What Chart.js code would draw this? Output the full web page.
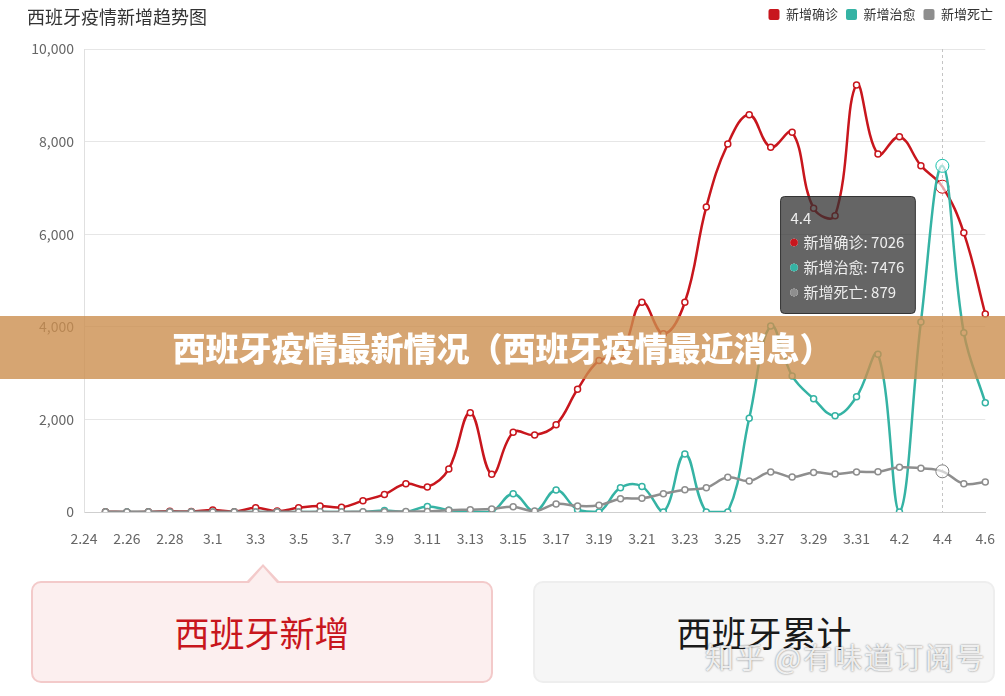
<!DOCTYPE html>
<html>
<head>
<meta charset="utf-8">
<script src="https://cdn.jsdelivr.net/npm/chart.js@4.4.1/dist/chart.umd.min.js"></script>
<style>
  body { margin: 0; background: #fff; font-family: "Noto Sans CJK SC", sans-serif; }
  #wrap { position: relative; width: 1005px; height: 696px; overflow: hidden; }
  #box { position: absolute; left: 0; top: 0; width: 1005px; height: 550px; }
  #title { position: absolute; left: 27px; top: 3px; font-size: 18px; color: #333; }
  #banner { position: absolute; left: 0; top: 316px; width: 1005px; height: 63px;
    background: rgba(204, 143, 79, 0.8); color: #fff; font-weight: 900; font-size: 33px;
    text-align: center; line-height: 63px; }
  .card { position: absolute; top: 581px; width: 462px; height: 102px; box-sizing: border-box;
    border-radius: 10px; text-align: center; line-height: 98px; font-size: 35px; }
  .left { left: 31px; background: #fcefef; border: 2px solid #f3caca; color: #c8161d; }
  .left::before { content: ''; position: absolute; left: 214px; top: -19px;
    border-left: 16px solid transparent; border-right: 16px solid transparent; border-bottom: 17px solid #f3caca; }
  .left::after { content: ''; position: absolute; left: 216px; top: -16px;
    border-left: 14px solid transparent; border-right: 14px solid transparent; border-bottom: 16px solid #fcefef; }
  .right { left: 533px; background: #f6f6f6; border: 2px solid #eeeeee; color: #1a1a1a; }
  #mark { position: absolute; left: 705px; top: 635px; font-size: 29px; letter-spacing: 1.5px;
    color: rgba(255,255,255,0.85); text-shadow: 0 0 2px rgba(0,0,0,0.55); white-space: nowrap; }
</style>
</head>
<body>
<div id="wrap">
  <div id="box"><canvas id="trendChart"></canvas></div>
  <div id="title">西班牙疫情新增趋势图</div>
  <div id="banner">西班牙疫情最新情况（西班牙疫情最近消息）</div>
  <div class="card left">西班牙新增</div>
  <div class="card right">西班牙累计</div>
  <div id="mark">知乎 @有味道订阅号</div>
</div>
<script>
const days = ['2.24', '2.25', '2.26', '2.27', '2.28', '2.29',
  '3.1', '3.2', '3.3', '3.4', '3.5', '3.6', '3.7', '3.8', '3.9', '3.10',
  '3.11', '3.12', '3.13', '3.14', '3.15', '3.16', '3.17', '3.18', '3.19', '3.20',
  '3.21', '3.22', '3.23', '3.24', '3.25', '3.26', '3.27', '3.28', '3.29', '3.30', '3.31',
  '4.1', '4.2', '4.3', '4.4', '4.5', '4.6'];

const confirmed = [null, 4, 2, 3, 15, 13,
  45, 8, 90, 20, 90, 130, 100, 245, 380, 612,
  540, 930, 2145, 814, 1720, 1663, 1886, 2650, 3270, 3390,
  4530, 3850, 4530, 6590, 7950, 8580, 7880, 8200, 6560, 6400, 9225,
  7730, 8105, 7480, 7026, 6030, 4276];

const recovered = [null, 0, 0, 0, 0, 0,
  0, 0, 0, 0, 0, 0, 0, 0, 30, 0,
  120, 40, 5, 5, 395, 10, 475, 50, 0, 525,
  550, 0, 1255, 0, 0, 2025, 4015, 2940, 2445, 2080, 2490,
  3405, 0, 4105, 7476, 3870, 2360];

const deaths = [null, 0, 0, 0, 0, 0,
  0, 0, 1, 0, 1, 3, 2, 5, 7, 11,
  12, 40, 50, 65, 115, 20, 175, 130, 145, 288,
  295, 395, 480, 525, 750, 670, 865, 755, 855, 820, 865,
  870, 965, 943, 879, 611, 648];

const seriesNames = ['新增确诊', '新增治愈', '新增死亡'];
const seriesColors = ['#c8161d', '#35b3a4', '#8e8e8e'];
const hoverDay = '4.4';

Chart.defaults.font.family = '"Noto Sans CJK SC", sans-serif';
Chart.defaults.color = '#666';

Chart.Tooltip.positioners.side = function (items) {
  if (!items.length) return false;
  return { x: items[0].element.x - 27, y: this.chart.chartArea.top + 206 };
};

// dashed guide line at the hovered day
const guideLine = {
  id: 'guideLine',
  beforeDatasetsDraw(chart) {
    const act = chart.tooltip.getActiveElements();
    if (!act.length) return;
    const x = Math.round(act[0].element.x) + 0.5;
    const { top, bottom } = chart.chartArea;
    const ctx = chart.ctx;
    ctx.save();
    ctx.strokeStyle = '#c4c4c4';
    ctx.lineWidth = 1;
    ctx.setLineDash([3, 3]);
    ctx.beginPath();
    ctx.moveTo(x, top);
    ctx.lineTo(x, bottom);
    ctx.stroke();
    ctx.restore();
  }
};

const makeSet = (i, data, order) => ({
  label: seriesNames[i],
  data,
  order,
  borderColor: seriesColors[i],
  backgroundColor: seriesColors[i],
  borderWidth: 2.5,
  tension: 0.4,
  pointRadius: 3,
  pointBorderWidth: 1.5,
  pointBackgroundColor: '#fff',
  pointHoverRadius: 6.5,
  pointHoverBorderWidth: 1,
  pointHoverBackgroundColor: 'rgba(255,255,255,0.6)'
});

const trendCtx = document.getElementById('trendChart').getContext('2d');
const chart = new Chart(trendCtx, {
  type: 'line',
  data: {
    labels: days,
    datasets: [makeSet(0, confirmed, 3), makeSet(1, recovered, 2), makeSet(2, deaths, 1)]
  },
  options: {
    responsive: true,
    maintainAspectRatio: false,
    animation: false,
    events: [],
    layout: { padding: { left: 0, right: 4, top: 0, bottom: 0 } },
    interaction: { mode: 'index', intersect: false },
    plugins: {
      legend: {
        position: 'top',
        align: 'end',
        labels: {
          color: '#333',
          font: { size: 13 },
          boxWidth: 11,
          boxHeight: 11,
          padding: 8,
          useBorderRadius: true,
          borderRadius: 2,
          sort: (a, b) => a.datasetIndex - b.datasetIndex,
          generateLabels: (c) => Chart.defaults.plugins.legend.labels.generateLabels(c)
            .map(item => Object.assign(item, { lineWidth: 0, strokeStyle: item.fillStyle }))
        }
      },
      tooltip: {
        position: 'side',
        xAlign: 'right',
        yAlign: 'center',
        caretSize: 0,
        caretPadding: 0,
        backgroundColor: 'rgba(50,50,50,0.75)',
        borderColor: 'rgba(40,40,40,0.9)',
        borderWidth: 1,
        cornerRadius: 4,
        padding: { top: 13, bottom: 12, left: 10, right: 11 },
        titleFont: { size: 15, weight: 'normal' },
        titleColor: '#eee',
        titleMarginBottom: 6,
        bodyFont: { size: 15 },
        bodyColor: '#eee',
        bodySpacing: 7,
        boxWidth: 7,
        boxHeight: 7,
        boxPadding: 4,
        usePointStyle: true,
        itemSort: (a, b) => a.datasetIndex - b.datasetIndex,
        callbacks: {
          label: (c) => c.dataset.label + ': ' + c.raw,
          labelColor: (c) => ({ borderColor: seriesColors[c.datasetIndex], backgroundColor: seriesColors[c.datasetIndex] }),
          labelPointStyle: () => ({ pointStyle: 'circle', rotation: 0 })
        }
      }
    },
    scales: {
      x: {
        grid: { display: false },
        border: { color: '#cfcfcf' },
        ticks: {
          autoSkip: false,
          maxRotation: 0,
          padding: 10,
          font: { size: 14 },
          color: '#666',
          callback: (v, i) => (i % 2 === 0 ? days[i] : '')
        },
        afterFit: (s) => { s.height = 38; }
      },
      xTop: {
        position: 'top',
        type: 'category',
        grid: { display: false },
        border: { display: false },
        ticks: { display: false },
        afterFit: (s) => { s.height = 18; }
      },
      y: {
        min: 0,
        max: 10000,
        ticks: { stepSize: 2000, padding: 10, font: { size: 14 }, color: '#666' },
        grid: { color: '#e6e6e6', drawTicks: false },
        border: { color: '#e0e0e0' },
        afterFit: (s) => { s.width = 84; }
      },
      yRight: {
        position: 'right',
        grid: { display: false },
        border: { display: false },
        ticks: { display: false },
        afterFit: (s) => { s.width = 14; }
      }
    }
  },
  plugins: [guideLine]
});

const idx = days.indexOf(hoverDay);
const active = [0, 1, 2].map(d => ({ datasetIndex: d, index: idx }));
chart.setActiveElements(active);
chart.tooltip.setActiveElements(active, { x: 0, y: 0 });
chart.update();
</script>
</body>
</html>
